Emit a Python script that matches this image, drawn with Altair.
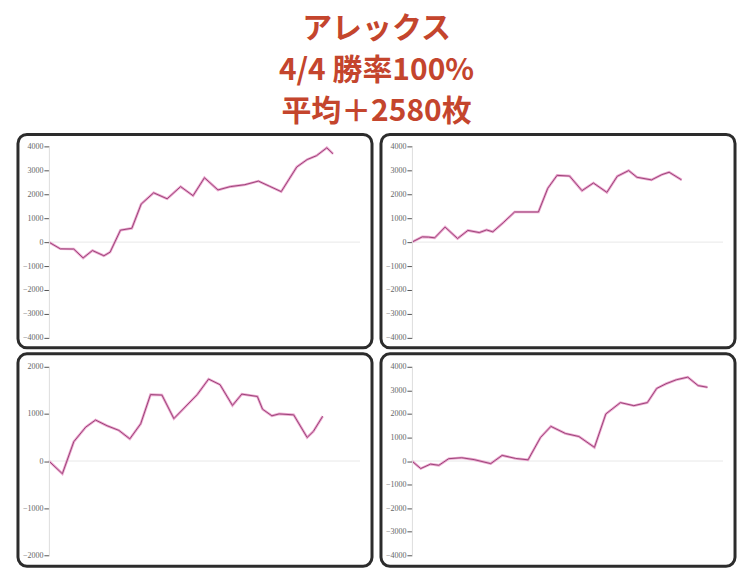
import altair as alt
import pandas as pd

TITLE_LINE = "アレックス"
SUBTITLE_LINES = ["4/4 勝率100%", "平均＋2580枚"]

# panel 1 (top-left)
p1_x = [0, 1.1, 2.4, 3.3, 4.2, 5.3, 5.9, 6.9, 8.0, 8.9, 10.1, 11.4, 12.7, 13.9, 15.0,
        16.3, 17.5, 18.9, 20.2, 21.3, 22.4, 23.9, 24.9, 25.8, 26.8, 27.4]
p1_y = [0, -280, -290, -660, -350, -570, -420, 500, 580, 1590, 2060, 1810, 2320, 1940, 2690,
        2180, 2320, 2400, 2550, 2330, 2110, 3140, 3450, 3610, 3940, 3690]
# panel 2 (top-right)
p2_x = [0, 1.0, 1.6, 2.2, 3.2, 4.4, 5.4, 6.5, 7.2, 7.8, 8.8, 9.9, 12.2, 13.1, 14.0,
        15.2, 16.4, 17.5, 18.8, 19.8, 20.9, 21.7, 23.1, 24.1, 24.8, 26.0]
p2_y = [0, 220, 210, 180, 630, 150, 490, 400, 510, 430, 810, 1260, 1260, 2250, 2790,
        2760, 2150, 2470, 2080, 2750, 2990, 2710, 2600, 2820, 2920, 2600]
# panel 3 (bottom-left)
p3_x = [0, 1.3, 2.4, 3.55, 4.5, 5.6, 6.75, 7.8, 8.85, 9.8, 10.9, 12.05, 14.3, 15.4,
        16.5, 17.7, 18.6, 20.1, 20.6, 21.5, 22.2, 23.6, 24.9, 25.5, 26.4]
p3_y = [0, -270, 410, 720, 870, 750, 650, 470, 790, 1410, 1400, 900, 1410, 1740,
        1620, 1180, 1420, 1370, 1100, 960, 1000, 980, 500, 630, 950]
# panel 4 (bottom-right)
p4_x = [0, 0.85, 1.8, 2.6, 3.55, 4.8, 6.0, 7.6, 8.7, 10.0, 11.2, 12.4, 13.4, 14.8, 16.1,
        17.6, 18.7, 20.1, 21.4, 22.7, 23.6, 24.5, 25.5, 26.6, 27.6, 28.5]
p4_y = [0, -320, -130, -180, 100, 140, 60, -110, 240, 110, 50, 1000, 1470, 1170, 1040,
        580, 2000, 2480, 2350, 2480, 3080, 3280, 3450, 3560, 3200, 3130]

TICKS_4K = [-4000, -3000, -2000, -1000, 0, 1000, 2000, 3000, 4000]
TICKS_2K = [-2000, -1000, 0, 1000, 2000]

W = 312


def panel(xs, ys, dom, ticks, h, top_off, bot_off):
    df = pd.DataFrame({"game": xs, "coins": ys})
    yscale = alt.Scale(domain=dom, nice=False, zero=False)
    xscale = alt.Scale(domain=[0, 30], nice=False)
    axis = alt.Axis(
        values=ticks, title=None, grid=False, labelFont="Liberation Serif",
        labelFontSize=8, labelColor="#666666", tickColor="#555555", tickSize=5,
        domainColor="#dddddd", labelPadding=1, format="d", zindex=1,
        labelOverlap=False, labelFlush=False
    )
    frame = alt.Chart(alt.Data(values=[{"f": 1}])).mark_rect(
        fill="white", stroke="#2c2c2c", strokeWidth=3, cornerRadius=9
    ).encode(
        x=alt.value(-31), x2=alt.value(W + 12),
        y=alt.value(-top_off), y2=alt.value(h + bot_off)
    )
    zero = alt.Chart(alt.Data(values=[{"f": 1}])).mark_rule(
        color="#e8e8e8", strokeWidth=1
    ).encode(
        y=alt.datum(0, scale=yscale, axis=axis), x=alt.value(0), x2=alt.value(W)
    )
    outer = alt.Chart(df).mark_line(color="#e58fc2", strokeWidth=2.6, opacity=0.8).encode(
        x=alt.X("game:Q", scale=xscale, axis=None),
        y=alt.Y("coins:Q", scale=yscale, axis=axis),
    )
    inner = alt.Chart(df).mark_line(color="#9c4478", strokeWidth=1.0).encode(
        x=alt.X("game:Q", scale=xscale, axis=None),
        y=alt.Y("coins:Q", scale=yscale, axis=axis),
    )
    return alt.layer(frame, zero, outer, inner).properties(width=W, height=h)


c1 = panel(p1_x, p1_y, [-4000, 4000], TICKS_4K, 192, 12, 10)
c2 = panel(p2_x, p2_y, [-4000, 4000], TICKS_4K, 192, 12, 10)
c3 = panel(p3_x, p3_y, [-2000, 2000], TICKS_2K, 189, 13, 11)
c4 = panel(p4_x, p4_y, [-4000, 4000], TICKS_4K, 189, 13, 11)

top = alt.hconcat(c1, c2, spacing=5)
bottom = alt.hconcat(c3, c4, spacing=5)

RED = "#c4452d"
chart = alt.vconcat(top, bottom, spacing=2).properties(
    title=alt.TitleParams(
        text=TITLE_LINE, subtitle=SUBTITLE_LINES, anchor="middle",
        fontSize=30, fontWeight="bold", font="Noto Sans CJK JP", color=RED,
        subtitleFontSize=30, subtitleFontWeight="bold", subtitleFont="Noto Sans CJK JP",
        subtitleColor=RED, subtitleLineHeight=42, subtitlePadding=12, offset=5
    ),
    padding={"left": 8, "top": 5, "right": 5, "bottom": 3},
).configure_view(stroke=None).configure(background="white")

chart.save("out.html", embed_options={"renderer": "svg", "actions": False})
